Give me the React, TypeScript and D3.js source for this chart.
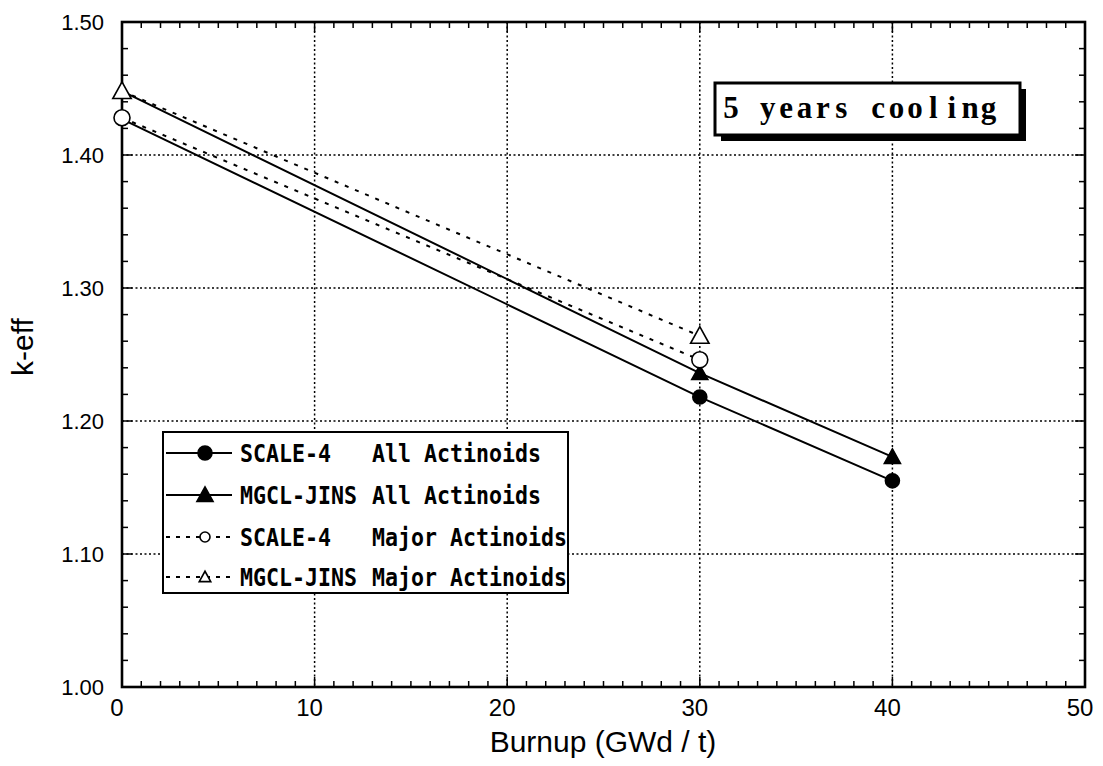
import React from "react";
import * as d3 from "d3";

const xTicks = [0, 10, 20, 30, 40, 50];
const yTicks = [1.0, 1.1, 1.2, 1.3, 1.4, 1.5];
const yTickLabels = ["1.00", "1.10", "1.20", "1.30", "1.40", "1.50"];

const scaleAllX = [0, 30, 40];
const scaleAllY = [1.427, 1.218, 1.155];
const mgclAllX = [0, 30, 40];
const mgclAllY = [1.448, 1.236, 1.173];
const scaleMajX = [0, 30];
const scaleMajY = [1.428, 1.246];
const mgclMajX = [0, 30];
const mgclMajY = [1.448, 1.264];

const seriesNames = ["SCALE-4", "MGCL-JINS", "SCALE-4", "MGCL-JINS"];
const seriesLib = ["All Actinoids", "All Actinoids", "Major Actinoids", "Major Actinoids"];
const boxTitle = "5 years cooling";

const W = 1103, H = 766;
const L = 122, R = 1085, T = 22, B = 687;

export default function App() {
  const x = d3.scaleLinear().domain([0, 50]).range([L, R]);
  const y = d3.scaleLinear().domain([1.0, 1.5]).range([B, T]);
  const line = d3.line<[number, number]>().x(d => x(d[0])).y(d => y(d[1]));

  const series = [
    { xs: scaleAllX, ys: scaleAllY, dash: null, marker: "circle", filled: true },
    { xs: mgclAllX, ys: mgclAllY, dash: null, marker: "triangle", filled: true },
    { xs: scaleMajX, ys: scaleMajY, dash: "4,7", marker: "circle", filled: false },
    { xs: mgclMajX, ys: mgclMajY, dash: "4,7", marker: "triangle", filled: false },
  ];

  const marker = (type: string, filled: boolean, cx: number, cy: number, size: number, key: string) => {
    if (type === "circle") {
      return <circle key={key} cx={cx} cy={cy} r={size} fill={filled ? "#000" : "#fff"} stroke="#000" strokeWidth={1.6} />;
    }
    const s = size * 1.15;
    const p = `M${cx},${cy - s} L${cx + s},${cy + s * 0.8} L${cx - s},${cy + s * 0.8} Z`;
    return <path key={key} d={p} fill={filled ? "#000" : "#fff"} stroke="#000" strokeWidth={1.6} />;
  };

  const minorX = d3.range(0, 51, 1).filter(v => v % 10 !== 0);
  const minorY = d3.range(0, 26).map(i => 1.0 + i * 0.02).filter((v, i) => i % 5 !== 0);

  const legendX = 163, legendY = 432, legendW = 405, legendH = 161;
  const rowY = [453, 495, 537, 577];

  const titleChars = boxTitle.split("");

  return (
    <svg width={W} height={H} style={{ position: "absolute", left: 0, top: 0, background: "#fff" }}>
      <rect x={0} y={0} width={W} height={H} fill="#fff" />
      {/* grid */}
      {xTicks.slice(1, -1).map(v => (
        <line key={"gx" + v} x1={x(v)} x2={x(v)} y1={T} y2={B} stroke="#000" strokeWidth={1.5} strokeDasharray="2,2.5" />
      ))}
      {yTicks.slice(1, -1).map(v => (
        <line key={"gy" + v} x1={L} x2={R} y1={y(v)} y2={y(v)} stroke="#000" strokeWidth={1.5} strokeDasharray="2,2.5" />
      ))}
      {/* minor ticks */}
      {minorX.map(v => (
        <g key={"mx" + v}>
          <line x1={x(v)} x2={x(v)} y1={B} y2={B - 6} stroke="#000" strokeWidth={1.5} />
          <line x1={x(v)} x2={x(v)} y1={T} y2={T + 6} stroke="#000" strokeWidth={1.5} />
        </g>
      ))}
      {minorY.map(v => (
        <g key={"my" + v}>
          <line x1={L} x2={L + 6} y1={y(v)} y2={y(v)} stroke="#000" strokeWidth={1.5} />
          <line x1={R} x2={R - 6} y1={y(v)} y2={y(v)} stroke="#000" strokeWidth={1.5} />
        </g>
      ))}
      {xTicks.map(v => (
        <g key={"Mx" + v}>
          <line x1={x(v)} x2={x(v)} y1={B} y2={B - 10} stroke="#000" strokeWidth={1.5} />
          <line x1={x(v)} x2={x(v)} y1={T} y2={T + 10} stroke="#000" strokeWidth={1.5} />
        </g>
      ))}
      {yTicks.map(v => (
        <g key={"My" + v}>
          <line x1={L} x2={L + 10} y1={y(v)} y2={y(v)} stroke="#000" strokeWidth={1.5} />
          <line x1={R} x2={R - 10} y1={y(v)} y2={y(v)} stroke="#000" strokeWidth={1.5} />
        </g>
      ))}
      {/* frame */}
      <rect x={L} y={T} width={R - L} height={B - T} fill="none" stroke="#000" strokeWidth={2.6} />
      {/* tick labels */}
      {xTicks.map(v => (
        <text key={"xl" + v} x={x(v) - 5} y={B + 29} textAnchor="middle" fontFamily="Liberation Sans, Arial, sans-serif" fontSize={24} fill="#000">{v}</text>
      ))}
      {yTicks.map((v, i) => (
        <text key={"yl" + v} x={L - 18} y={y(v) + 8} textAnchor="end" fontFamily="Liberation Sans, Arial, sans-serif" fontSize={22} fill="#000">{yTickLabels[i]}</text>
      ))}
      {/* axis titles */}
      <text x={603} y={752} textAnchor="middle" fontFamily="Liberation Sans, Arial, sans-serif" fontSize={30} fill="#000">Burnup (GWd / t)</text>
      <text transform={`translate(33,347) rotate(-90)`} textAnchor="middle" fontFamily="Liberation Sans, Arial, sans-serif" fontSize={30} fill="#000">k-eff</text>
      {/* series */}
      {series.map((s, i) => {
        const pts: [number, number][] = s.xs.map((v, j) => [v, s.ys[j]]);
        return (
          <g key={"s" + i}>
            <path d={line(pts) || ""} fill="none" stroke="#000" strokeWidth={2} strokeDasharray={s.dash || undefined} />
            {pts.map((p, j) => (s.filled && p[0] === 0 ? null : marker(s.marker, s.filled, x(p[0]), y(p[1]), s.filled ? 7 : 8, `m${i}-${j}`)))}
          </g>
        );
      })}
      {/* title box */}
      <rect x={721} y={89} width={305} height={52} fill="#000" />
      <rect x={715} y={83} width={305} height={52} fill="#fff" stroke="#000" strokeWidth={3} />
      {titleChars.map((c, i) => (
        <text key={"tc" + i} x={731 + i * 18.4} y={118} textAnchor="middle" fontFamily="Liberation Serif, DejaVu Serif, serif" fontWeight="bold" fontSize={31} fill="#000">{c}</text>
      ))}
      {/* legend */}
      <rect x={legendX} y={legendY} width={legendW} height={legendH} fill="#fff" stroke="#000" strokeWidth={2} />
      {series.map((s, i) => {
        const cy = rowY[i];
        return (
          <g key={"lg" + i}>
            <line x1={166} x2={232} y1={cy} y2={cy} stroke="#000" strokeWidth={2} strokeDasharray={s.dash ? "4,6" : undefined} />
            {marker(s.marker, s.filled, 205, cy, s.filled ? 7 : 5, "lm" + i)}
            <text transform={`translate(240,${cy + 9}) scale(1,1.2)`} fontFamily="DejaVu Sans Mono, monospace" fontWeight="bold" fontSize={20} textLength={seriesNames[i].length * 13} lengthAdjust="spacingAndGlyphs" fill="#000">{seriesNames[i]}</text>
            <text transform={`translate(372,${cy + 9}) scale(1,1.2)`} fontFamily="DejaVu Sans Mono, monospace" fontWeight="bold" fontSize={20} textLength={seriesLib[i].length * 13} lengthAdjust="spacingAndGlyphs" fill="#000">{seriesLib[i]}</text>
          </g>
        );
      })}
    </svg>
  );
}
